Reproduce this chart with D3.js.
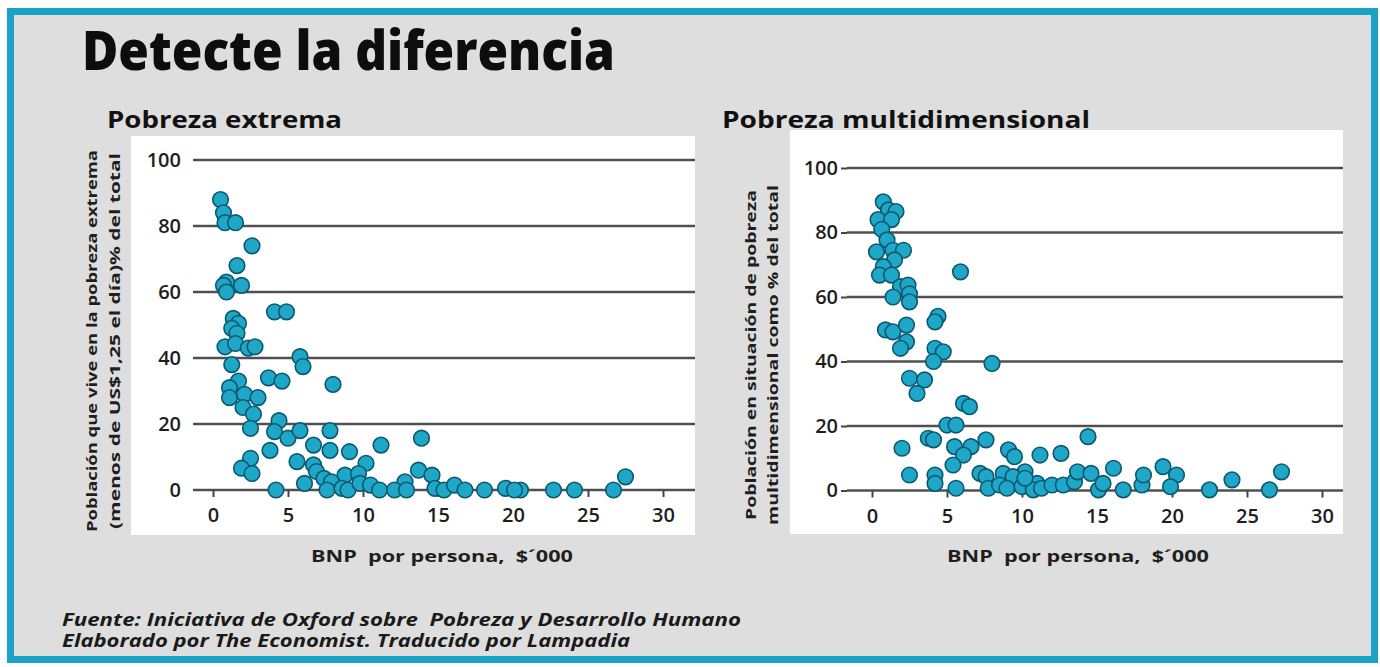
<!DOCTYPE html>
<html><head><meta charset="utf-8">
<script src="https://cdn.jsdelivr.net/npm/d3@7"></script>
<style>
html,body{margin:0;padding:0;background:#fff;}
svg text{font-family:"Open Sans","Noto Sans",sans-serif;white-space:pre;}
</style></head>
<body>
<svg id="c" width="1380" height="667"></svg>
<script>
// ---- data ----
const xTicks = [0,5,10,15,20,25,30];
const yTicks = [0,20,40,60,80,100];

const extremeGNP = [0.5,0.7,0.8,1.5,2.6,1.6,0.9,0.7,1.9,0.9,4.1,4.9,1.35,1.7,1.25,1.6,0.8,1.5,2.35,2.8,5.8,6.0,1.25,3.7,4.6,8.0,1.7,1.1,1.1,2.1,3.0,2.0,2.7,2.5,4.4,4.1,5.0,5.8,7.8,3.8,6.7,7.8,9.1,11.2,13.9,2.5,1.9,2.6,5.6,6.7,10.2,6.9,8.8,9.7,13.7,14.6,6.1,7.4,7.9,12.8,27.5,4.2,7.6,8.6,9.0,9.8,10.5,11.1,12.1,12.9,14.8,15.4,16.1,16.8,18.1,19.5,20.5,22.7,24.1,26.7,20.1];
const extremePct = [88,84,81,81,74,68,63,62,62,60,54,54,52,50.5,49,47.5,43.4,44.4,43,43.4,40.4,37.4,38,34,33,32,33,31,28,29,28,25,23,18.7,21,17.7,15.7,18,18,12,13.6,12,11.6,13.6,15.7,9.6,6.6,5,8.6,7.6,8.1,5.6,4.5,5,6,4.5,2,3.5,2.5,2.5,4,0,0,0.5,0,2,1.5,0,0,0,0.5,0,1.5,0,0,0.5,0,0,0,0,0];

const multiGNP = [0.75,1.1,1.6,0.4,1.3,0.65,1.0,0.3,1.4,2.1,1.5,0.75,0.5,1.3,5.9,1.9,2.4,2.5,1.4,2.5,4.4,4.2,0.9,1.4,2.3,2.3,1.9,4.2,4.75,4.1,8.0,2.5,3.5,3.0,6.1,6.5,5.0,5.6,3.75,4.1,14.4,2.0,5.5,6.6,7.6,6.1,9.1,9.5,11.2,12.6,5.4,2.5,4.2,4.2,5.6,7.2,7.6,8.75,10.2,9.4,7.75,8.5,9.0,10.0,11.0,10.75,11.3,12.0,12.75,13.5,13.7,14.6,15.1,15.4,16.1,16.75,18.0,18.1,19.4,20.3,19.9,22.5,24.0,26.5,27.3,10.2];
const multiPct = [89.5,87,86.5,84,84,81,77.7,74,74.5,74.5,71.5,69.4,66.8,66.8,67.8,63.2,63.7,61,60,58.5,54,52.3,49.8,49.2,51.3,46.1,44.1,44.1,43,40,39.4,34.8,34.3,30.1,27,26,20.3,20.3,16.2,15.7,16.7,13.1,13.6,13.6,15.7,11,12.6,10.5,11,11.5,7.9,4.8,4.8,2.2,0.7,5.3,4.3,5.3,5.8,4.3,0.7,1.7,0.7,1.2,2.2,0.2,0.7,1.7,1.7,2.7,5.8,5.3,0.2,2.2,6.9,0.2,1.7,4.8,7.4,4.8,1.2,0.2,3.3,0.2,5.8,3.8];

const titleText = "Detecte la diferencia";
const panelTitles = ["Pobreza extrema","Pobreza multidimensional"];
const yTitles = [
  ["Población que vive en la pobreza extrema","(menos de US$1,25 el día)% del total"],
  ["Población en situación de pobreza","multidimensional como % del total"]
];
const xTitle = "BNP  por persona,  $´000";
const sourceLines = ["Fuente: Iniciativa de Oxford sobre  Pobreza y Desarrollo Humano","Elaborado por The Economist. Traducido por Lampadia"];

// ---- drawing ----
const svg = d3.select("#c");
svg.append("rect").attr("x",10.5).attr("y",11.5).attr("width",1364).attr("height",648)
  .attr("fill","#dedede").attr("stroke","#1ca2c6").attr("stroke-width",7);

function fitText(sel, w){ sel.attr("textLength",w).attr("lengthAdjust","spacingAndGlyphs"); }

fitText(svg.append("text").attr("x",82).attr("y",70).attr("font-size",54).attr("font-weight",800)
  .attr("fill","#0d0d0d").text(titleText), 533);

const panels = [
  {rect:[131,136,695,535], x0:213, x1:663, y0:490, y1:160, gridL:193, gridR:695, ticks:false,
   title:[107,128,235], ytl:[92,115], ytc:341, ytw:[382,376], gnp:extremeGNP, pct:extremePct, xtc:442},
  {rect:[790,130,1343,534], x0:872, x1:1322, y0:490.5, y1:168, gridL:847, gridR:1343, ticks:true,
   title:[722,128,368], ytl:[751,773], ytc:355, ytw:[330,340], gnp:multiGNP, pct:multiPct, xtc:1078}
];

panels.forEach((p,i)=>{
  const g = svg.append("g");
  g.append("rect").attr("x",p.rect[0]).attr("y",p.rect[1]).attr("width",p.rect[2]-p.rect[0])
    .attr("height",p.rect[3]-p.rect[1]).attr("fill","#fff");
  fitText(g.append("text").attr("x",p.title[0]).attr("y",p.title[1]).attr("font-size",24)
    .attr("font-weight",700).attr("fill","#111").text(panelTitles[i]), p.title[2]);

  const x = d3.scaleLinear().domain([0,30]).range([p.x0,p.x1]);
  const y = d3.scaleLinear().domain([0,100]).range([p.y0,p.y1]);

  // gridlines
  g.selectAll(".grid").data(yTicks).join("line")
    .attr("x1",p.gridL).attr("x2",p.gridR).attr("y1",d=>y(d)).attr("y2",d=>y(d))
    .attr("stroke","#505050").attr("stroke-width",2.6);

  // y axis labels
  const ya = d3.axisLeft(y).tickValues(yTicks).tickSize(p.ticks?6:0).tickPadding(p.ticks?3:12);
  const yg = g.append("g").attr("transform",`translate(${p.gridL},0)`).call(ya);
  yg.select(".domain").remove();
  yg.selectAll(".tick line").attr("stroke","#444").attr("stroke-width",2);
  yg.selectAll("text").attr("font-size",20).attr("font-weight",600).attr("fill","#1e1e1e")
    .style("font-family","'Open Sans',sans-serif");

  // x axis
  const xa = d3.axisBottom(x).tickValues(xTicks).tickSize(7).tickPadding(11);
  const xg = g.append("g").attr("transform",`translate(0,${p.y0})`).call(xa);
  xg.select(".domain").remove();
  xg.selectAll(".tick line").attr("stroke","#444").attr("stroke-width",2);
  xg.selectAll("text").attr("font-size",20).attr("font-weight",600).attr("fill","#1e1e1e")
    .style("font-family","'Open Sans',sans-serif");

  // axis titles
  fitText(g.append("text").attr("x",p.xtc).attr("y",562).attr("text-anchor","middle")
    .attr("font-size",16).attr("font-weight",700).attr("fill","#1e1e1e").text(xTitle), 262);
  yTitles[i].forEach((t,k)=>{
    fitText(g.append("text").attr("transform",`translate(${p.ytl[k]+5},${p.ytc}) rotate(-90)`)
      .attr("text-anchor","middle").attr("font-size",14.5).attr("font-weight",700)
      .attr("fill","#1e1e1e").text(t), p.ytw[k]);
  });

  // points
  const pts = p.gnp.map((v,j)=>({x:v,y:p.pct[j]}));
  g.selectAll(".pt").data(pts).join("circle")
    .attr("cx",d=>x(d.x)).attr("cy",d=>y(d.y)).attr("r",7.8)
    .attr("fill","#1fa7c8").attr("stroke","#0c5870").attr("stroke-width",1.6);
});

sourceLines.forEach((t,k)=>{
  fitText(svg.append("text").attr("x",62).attr("y",626+k*21).attr("font-size",17)
    .attr("font-weight",700).attr("font-style","italic").attr("fill","#1a1a1a").text(t), k===0?679:568);
});
</script>
</body></html>
